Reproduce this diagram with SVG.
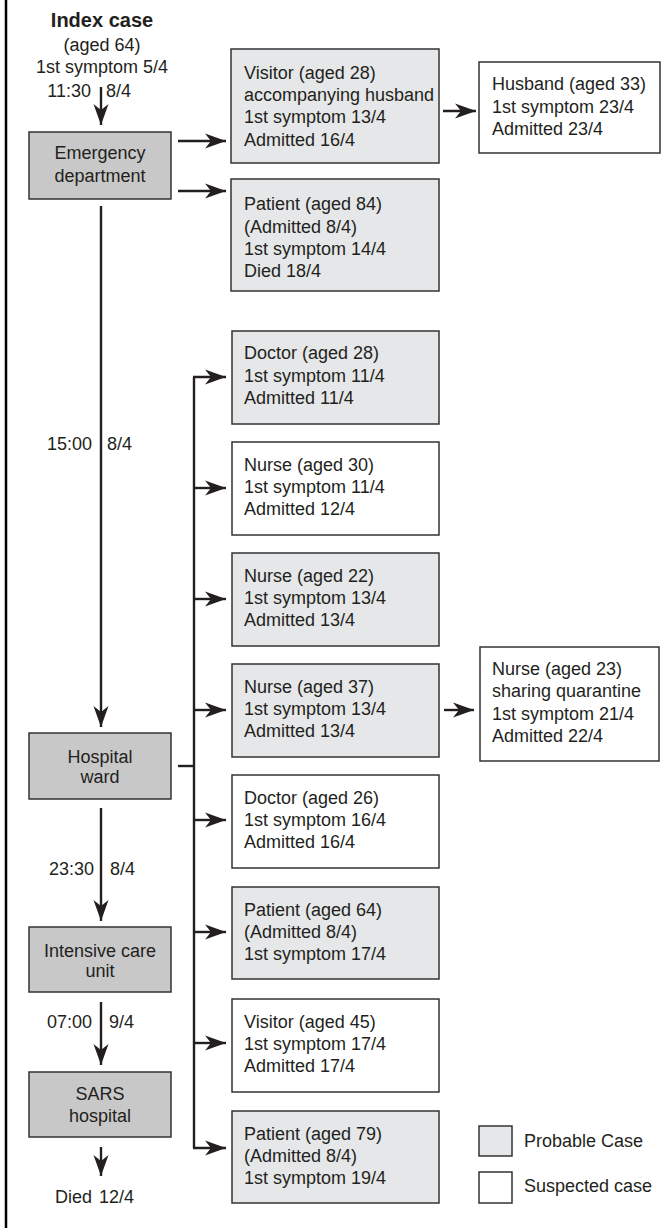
<svg xmlns="http://www.w3.org/2000/svg" width="671" height="1228" viewBox="0 0 671 1228">
<style>
text{font-family:"Liberation Sans",Arial,sans-serif;font-size:18px;fill:#231f20}
.b{font-weight:bold;font-size:20px}
.c{text-anchor:middle}
.e{text-anchor:end}
.loc{fill:#c8c8c8;stroke:#333;stroke-width:1.5}
.prob{fill:#e6e7e8;stroke:#333;stroke-width:1.5}
.susp{fill:#fff;stroke:#333;stroke-width:1.5}
.ln{stroke:#231f20;stroke-width:2.4;fill:none}
.ar{stroke:#231f20;stroke-width:2.4;fill:none;marker-end:url(#ah)}
</style>
<defs>
<marker id="ah" markerUnits="userSpaceOnUse" viewBox="0 0 22 18" markerWidth="22" markerHeight="18" refX="21" refY="9" orient="auto">
<path d="M0,1.5 L21,9 L0,16.5 L6,9 Z" fill="#231f20"/>
</marker>
</defs>
<rect width="671" height="1228" fill="#fff"/>
<line x1="6" y1="0" x2="6" y2="1228" stroke="#000" stroke-width="2.5"/>

<g id="index">
<text class="b c" x="102" y="27">Index case</text>
<text class="c" x="102" y="51">(aged 64)</text>
<text class="c" x="102" y="73">1st symptom 5/4</text>
</g>

<g id="labels">
<text class="e" x="91" y="97">11:30</text><text x="106" y="97">8/4</text>
<text class="e" x="92" y="450">15:00</text><text x="107" y="450">8/4</text>
<text class="e" x="94" y="875">23:30</text><text x="110" y="875">8/4</text>
<text class="e" x="92" y="1028">07:00</text><text x="109" y="1028">9/4</text>
<text x="55" y="1203">Died</text><text x="99" y="1203">12/4</text>
</g>

<g id="connectors">
<line class="ar" x1="101" y1="87" x2="101" y2="125"/>
<line class="ar" x1="178" y1="141" x2="226" y2="141"/>
<line class="ar" x1="178" y1="191" x2="226" y2="191"/>
<line class="ar" x1="443" y1="111" x2="476" y2="111"/>
<line class="ar" x1="101" y1="206" x2="101" y2="727"/>
<line class="ar" x1="101" y1="808" x2="101" y2="921"/>
<line class="ar" x1="101" y1="1002" x2="101" y2="1065"/>
<line class="ar" x1="101" y1="1147" x2="101" y2="1176"/>
<line class="ln" x1="178" y1="766" x2="194" y2="766"/>
<path class="ln" d="M194,377 V1148"/>
<line class="ar" x1="193" y1="377" x2="226" y2="377"/>
<line class="ar" x1="194" y1="488" x2="226" y2="488"/>
<line class="ar" x1="194" y1="599" x2="226" y2="599"/>
<line class="ar" x1="194" y1="710" x2="226" y2="710"/>
<line class="ar" x1="194" y1="820" x2="226" y2="820"/>
<line class="ar" x1="194" y1="932" x2="226" y2="932"/>
<line class="ar" x1="194" y1="1043" x2="226" y2="1043"/>
<line class="ar" x1="193" y1="1148" x2="226" y2="1148"/>
<line class="ar" x1="444" y1="710" x2="474" y2="710"/>
</g>

<g id="ed"><rect class="loc" x="29" y="132" width="142" height="67"/>
<text class="c" x="100" y="159">Emergency</text><text class="c" x="100" y="182">department</text></g>
<g id="ward"><rect class="loc" x="29" y="733" width="142" height="66"/>
<text class="c" x="100" y="763">Hospital</text><text class="c" x="100" y="783">ward</text></g>
<g id="icu"><rect class="loc" x="29" y="927" width="142" height="65"/>
<text class="c" x="100" y="957">Intensive care</text><text class="c" x="100" y="977">unit</text></g>
<g id="sars"><rect class="loc" x="29" y="1072" width="142" height="65"/>
<text class="c" x="100" y="1100">SARS</text><text class="c" x="100" y="1122">hospital</text></g>

<g id="visitor28"><rect class="prob" x="231" y="49" width="208" height="114"/>
<text x="244" y="79">Visitor (aged 28)</text><text x="244" y="101">accompanying husband</text><text x="244" y="123">1st symptom 13/4</text><text x="244" y="146">Admitted 16/4</text></g>
<g id="husband33"><rect class="susp" x="479" y="62" width="181" height="91"/>
<text x="492" y="90">Husband (aged 33)</text><text x="492" y="113">1st symptom 23/4</text><text x="492" y="135">Admitted 23/4</text></g>
<g id="patient84"><rect class="prob" x="231" y="179" width="208" height="112"/>
<text x="244" y="210">Patient (aged 84)</text><text x="244" y="233">(Admitted 8/4)</text><text x="244" y="255">1st symptom 14/4</text><text x="244" y="277">Died 18/4</text></g>

<g id="doctor28"><rect class="prob" x="232" y="331" width="207" height="93"/>
<text x="244" y="359">Doctor (aged 28)</text><text x="244" y="382">1st symptom 11/4</text><text x="244" y="404">Admitted 11/4</text></g>
<g id="nurse30"><rect class="susp" x="232" y="442" width="207" height="93"/>
<text x="244" y="471">Nurse (aged 30)</text><text x="244" y="493">1st symptom 11/4</text><text x="244" y="515">Admitted 12/4</text></g>
<g id="nurse22"><rect class="prob" x="232" y="553" width="207" height="93"/>
<text x="244" y="582">Nurse (aged 22)</text><text x="244" y="604">1st symptom 13/4</text><text x="244" y="626">Admitted 13/4</text></g>
<g id="nurse37"><rect class="prob" x="232" y="664" width="207" height="93"/>
<text x="244" y="693">Nurse (aged 37)</text><text x="244" y="715">1st symptom 13/4</text><text x="244" y="737">Admitted 13/4</text></g>
<g id="nurse23"><rect class="susp" x="480" y="647" width="179" height="114"/>
<text x="492" y="675">Nurse (aged 23)</text><text x="492" y="697">sharing quarantine</text><text x="492" y="720">1st symptom 21/4</text><text x="492" y="742">Admitted 22/4</text></g>
<g id="doctor26"><rect class="susp" x="232" y="775" width="207" height="93"/>
<text x="244" y="804">Doctor (aged 26)</text><text x="244" y="826">1st symptom 16/4</text><text x="244" y="848">Admitted 16/4</text></g>
<g id="patient64"><rect class="prob" x="232" y="887" width="207" height="92"/>
<text x="244" y="916">Patient (aged 64)</text><text x="244" y="938">(Admitted 8/4)</text><text x="244" y="960">1st symptom 17/4</text></g>
<g id="visitor45"><rect class="susp" x="232" y="999" width="207" height="93"/>
<text x="244" y="1028">Visitor (aged 45)</text><text x="244" y="1050">1st symptom 17/4</text><text x="244" y="1072">Admitted 17/4</text></g>
<g id="patient79"><rect class="prob" x="232" y="1111" width="207" height="92"/>
<text x="244" y="1140">Patient (aged 79)</text><text x="244" y="1162">(Admitted 8/4)</text><text x="244" y="1184">1st symptom 19/4</text></g>

<g id="legend">
<rect class="prob" x="479" y="1126" width="33" height="30"/><text x="524" y="1147">Probable Case</text>
<rect class="susp" x="479" y="1172" width="33" height="31"/><text x="524" y="1192">Suspected case</text>
</g>
</svg>
